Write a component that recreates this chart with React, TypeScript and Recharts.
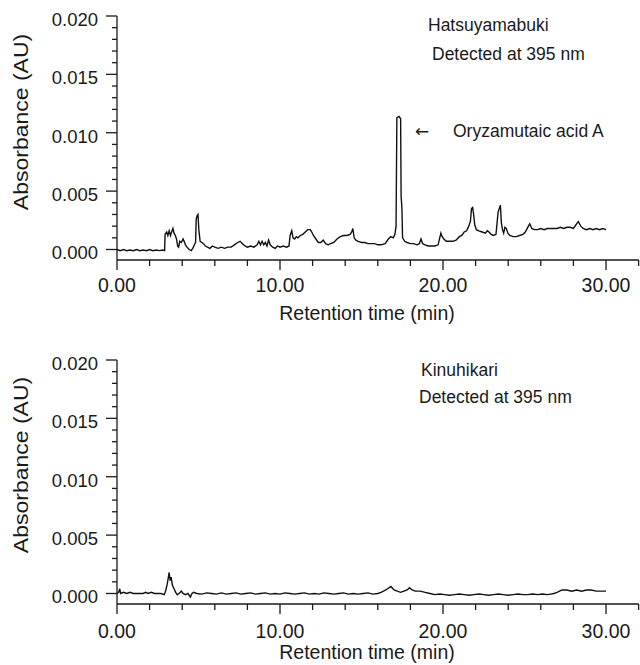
import { LineChart, Line, XAxis, YAxis } from 'recharts';

// Hatsuyamabuki chromatogram (min, AU)
const topTime = [
  0.0, 0.2, 0.4, 0.6, 0.8, 1.0, 1.2, 1.4, 1.6, 1.8, 2.0, 2.2, 2.4, 2.6, 2.8, 2.92,
  2.95, 3.05, 3.12, 3.2, 3.28, 3.35, 3.43, 3.5, 3.58, 3.65, 3.72, 3.78, 3.85, 3.95,
  4.05, 4.12, 4.2, 4.3, 4.42, 4.55, 4.65, 4.75, 4.82, 4.86, 4.92, 4.97, 5.02, 5.1,
  5.2, 5.3, 5.42, 5.55, 5.7, 5.85, 6.0, 6.2, 6.4, 6.6, 6.8, 7.0, 7.2, 7.4, 7.55,
  7.7, 7.85, 8.0, 8.2, 8.4, 8.6, 8.7, 8.8, 8.9, 9.0, 9.1, 9.2, 9.3, 9.4, 9.55, 9.7,
  9.85, 10.0, 10.2, 10.4, 10.55, 10.62, 10.72, 10.8, 10.9, 11.0, 11.1, 11.25, 11.4,
  11.55, 11.7, 11.85, 11.95, 12.05, 12.2, 12.35, 12.5, 12.65, 12.8, 12.95, 13.1,
  13.3, 13.5, 13.7, 13.9, 14.1, 14.3, 14.4, 14.47, 14.55, 14.65, 14.8, 15.0, 15.2,
  15.4, 15.6, 15.8, 16.0, 16.2, 16.45, 16.65, 16.8, 16.95, 17.05, 17.12, 17.17,
  17.3, 17.4, 17.43, 17.48, 17.52, 17.65, 17.8, 18.0, 18.2, 18.4, 18.55, 18.65,
  18.75, 18.9, 19.1, 19.3, 19.5, 19.7, 19.8, 19.87, 19.95, 20.05, 20.2, 20.4, 20.6,
  20.8, 21.0, 21.15, 21.3, 21.45, 21.58, 21.68, 21.75, 21.82, 21.88, 21.95, 22.05,
  22.2, 22.4, 22.6, 22.72, 22.82, 22.95, 23.1, 23.25, 23.38, 23.45, 23.52, 23.58,
  23.65, 23.72, 23.8, 23.88, 23.98, 24.1, 24.3, 24.5, 24.7, 24.9, 25.05, 25.2,
  25.32, 25.45, 25.6, 25.8, 26.0, 26.2, 26.4, 26.6, 26.8, 27.0, 27.2, 27.4, 27.6,
  27.8, 28.0, 28.15, 28.3, 28.45, 28.6, 28.8, 29.0, 29.2, 29.4, 29.6, 29.8, 30.0,
];
const topAbs = [
  0.0, -0.0001, 0.0, -0.0001, -0.00005, -0.0001, 0.0, -0.0001, -0.00005, -0.0001, 0.0, -0.0001, -0.00005, -0.0001, -0.00005, -0.0001,
  0.0013, 0.0015, 0.0012, 0.0016, 0.0012, 0.0015, 0.0018, 0.0014, 0.0012, 0.0009, 0.0003, 0.0002, 0.0007, 0.0006,
  0.0009, 0.0007, 0.0004, 0.0002, 0.0, -0.0001, 0.0001, 0.0004, 0.0006, 0.0026, 0.0029, 0.003, 0.0017, 0.0007,
  0.0006, 0.0005, 0.0003, 0.0002, 0.0001, 0.0003, 0.0002, 0.0001, 0.0002, 0.0001, 0.0002, 0.0002, 0.0004, 0.0006, 0.0007,
  0.0005, 0.0003, 0.0002, 0.0003, 0.0002, 0.0004, 0.0007, 0.0004, 0.0007, 0.0004, 0.0006, 0.0003, 0.0008, 0.0004, 0.0002, 0.0001,
  0.0003, 0.0002, 0.0003, 0.0002, 0.0003, 0.0012, 0.0016, 0.001, 0.0009, 0.0011, 0.001, 0.0012, 0.0013,
  0.0015, 0.0017, 0.0017, 0.0015, 0.0012, 0.0009, 0.0006, 0.0006, 0.0008, 0.0005, 0.0004, 0.0005,
  0.0006, 0.0009, 0.0011, 0.0012, 0.0012, 0.0013, 0.0015, 0.0018, 0.001, 0.0008, 0.0007, 0.0006, 0.0006,
  0.0005, 0.0005, 0.0005, 0.0004, 0.0004, 0.0005, 0.0009, 0.0011, 0.001, 0.0013, 0.002, 0.0113,
  0.0114, 0.0112, 0.0046, 0.0035, 0.001, 0.0007, 0.0006, 0.0005, 0.0005, 0.0004, 0.0005, 0.0009,
  0.0005, 0.0004, 0.0003, 0.0003, 0.0003, 0.0004, 0.001, 0.0014, 0.0011, 0.0009, 0.0007, 0.0007, 0.0007,
  0.0008, 0.0011, 0.0012, 0.0015, 0.0016, 0.002, 0.0024, 0.0035, 0.0036, 0.003, 0.0021, 0.0017,
  0.0016, 0.0015, 0.0014, 0.0016, 0.0015, 0.0013, 0.0012, 0.0013, 0.0032, 0.0035, 0.0038, 0.0023,
  0.0017, 0.0014, 0.0019, 0.0018, 0.0014, 0.0012, 0.0011, 0.0011, 0.0012, 0.0013, 0.0015, 0.0019,
  0.0022, 0.0018, 0.0017, 0.0017, 0.0018, 0.0017, 0.0018, 0.0018, 0.0018, 0.0018, 0.0019, 0.0018, 0.0019,
  0.0019, 0.0018, 0.0021, 0.0024, 0.002, 0.0018, 0.0017, 0.0018, 0.0017, 0.0018, 0.0017, 0.0018, 0.0017,
];

// Kinuhikari chromatogram (min, AU)
const bottomTime = [
  0.0, 0.1, 0.17, 0.22, 0.4, 0.6, 0.8, 1.0, 1.3, 1.6, 1.76, 1.9, 2.1, 2.3, 2.5, 2.7,
  2.9, 3.0, 3.08, 3.14, 3.2, 3.26, 3.32, 3.4, 3.5, 3.6, 3.7, 3.8, 3.95, 4.05, 4.2,
  4.35, 4.5, 4.6, 4.7, 4.9, 5.2, 5.5, 5.8, 6.1, 6.4, 6.7, 7.0, 7.3, 7.6, 7.9, 8.2,
  8.5, 8.8, 9.1, 9.4, 9.7, 10.0, 10.3, 10.6, 10.9, 11.2, 11.5, 11.8, 12.1, 12.4,
  12.7, 13.0, 13.3, 13.6, 13.9, 14.2, 14.5, 14.8, 15.1, 15.4, 15.7, 16.0, 16.2,
  16.5, 16.8, 17.0, 17.2, 17.4, 17.6, 17.8, 17.95, 18.1, 18.3, 18.6, 18.9, 19.2,
  19.5, 19.8, 20.1, 20.4, 20.7, 21.0, 21.3, 21.6, 21.9, 22.2, 22.5, 22.8, 23.1,
  23.4, 23.7, 24.0, 24.3, 24.6, 24.9, 25.2, 25.5, 25.8, 26.1, 26.4, 26.6, 26.8,
  27.0, 27.3, 27.6, 27.9, 28.2, 28.5, 28.8, 29.1, 29.4, 29.7, 30.0,
];
const bottomAbs = [
  0.0, 0.0001, 0.0004, 0.0, 0.0001, 0.0, 0.0001, 0.0, 0.0, 0.0, 0.0001, 0.0, 0.0001, 0.0, 0.0, 0.0,
  -0.0001, 0.0003, 0.0008, 0.0013, 0.0018, 0.0011, 0.0014, 0.0007, 0.0004, 0.0001, -0.0001, 0.0, 0.0002, 0.0, -0.0001,
  0.0, -0.0003, 0.0, 0.0001, 0.0, -0.00005, 0.00005, 0.0, -0.00005, 0.00005, -0.00005, 0.0, 0.00005, -0.00005, 0.0, 0.00005,
  -0.00005, 0.0, 0.00005, -0.00005, 0.0, -0.00005, 0.00005, 0.0, -0.00005, 0.0, 0.00005, -0.00005, 0.0, -0.00005,
  0.00005, 0.0, -0.00005, 0.0, 0.00005, -0.00005, 0.0, -0.00005, 0.0, 0.00005, -0.00005, 0.0, 0.0001,
  0.0003, 0.0006, 0.0003, 0.0002, 0.0001, 0.0002, 0.0003, 0.0005, 0.0003, 0.0002, 0.0002, 0.0001, 0.0,
  -0.0001, -0.00005, -0.0001, -0.00015, -0.0001, -0.00005, -0.0001, -0.00015, -0.0001, -0.00005, -0.0001, -0.00015, -0.0001,
  -0.00005, -0.0001, -0.00015, -0.0001, -0.00005, -0.0001, -0.0001, -0.00005, -0.0001, -0.00005, -0.0001, -0.00005, 0.0,
  0.0001, 0.0003, 0.0003, 0.0002, 0.0003, 0.0002, 0.0003, 0.0003, 0.0002, 0.0002, 0.0002,
];

const xTicks = [0, 2, 4, 6, 8, 10, 12, 14, 16, 18, 20, 22, 24, 26, 28, 30, 32];
const yTicks = [
  0, 0.001, 0.002, 0.003, 0.004, 0.005, 0.006, 0.007, 0.008, 0.009, 0.01,
  0.011, 0.012, 0.013, 0.014, 0.015, 0.016, 0.017, 0.018, 0.019, 0.02,
];

const FONT = '"Liberation Sans", Arial, Helvetica, sans-serif';
const INK = '#1a1a1a';

const topData = topTime.map((t, i) => ({ t, v: topAbs[i] }));
const bottomData = bottomTime.map((t, i) => ({ t, v: bottomAbs[i] }));

const makeXTick = (labelDy: number) => (props: any) => {
  const { x, y, payload } = props;
  const v = payload.value;
  const major = v % 10 === 0;
  return (
    <g>
      <line x1={x} y1={y} x2={x} y2={y + (major ? 10 : 6)} stroke={INK} strokeWidth={1.3} />
      {major && v <= 30 && (
        <text x={x} y={y + labelDy} textAnchor="middle" fontSize={19.5} fontFamily={FONT} fill={INK}>
          {v.toFixed(2)}
        </text>
      )}
    </g>
  );
};

const YTick = (props: any) => {
  const { x, y, payload } = props;
  const v = payload.value;
  const major = Math.round(v * 1000) % 5 === 0;
  return (
    <g>
      <line x1={x - (major ? 11 : 5)} y1={y} x2={x} y2={y} stroke={INK} strokeWidth={1.3} />
      {major && (
        <text x={x - 19} y={y + 10} textAnchor="end" fontSize={18.5} fontFamily={FONT} fill={INK}>
          {v.toFixed(3)}
        </text>
      )}
    </g>
  );
};

type PanelProps = {
  data: { t: number; v: number }[];
  height: number;
  top: number;
  xAxisHeight: number;
  tickLabelDy: number;
  xLabelY: number;
  yLabelY: number;
  notes: { text: string; x: number; y: number }[];
  children?: any;
};

function Panel({ data, height, top, xAxisHeight, tickLabelDy, xLabelY, yLabelY, notes, children }: PanelProps) {
  return (
    <LineChart width={640} height={height} data={data} margin={{ top, right: 1.4, left: 0, bottom: 0 }}>
      <XAxis
        type="number"
        dataKey="t"
        domain={[0, 32]}
        ticks={xTicks}
        interval={0}
        height={xAxisHeight}
        tickLine={false}
        tickSize={0}
        tickMargin={0}
        tick={makeXTick(tickLabelDy)}
        axisLine={{ stroke: INK, strokeWidth: 1.3 }}
      />
      <YAxis
        type="number"
        domain={[-0.0009, 0.02]}
        ticks={yTicks}
        interval={0}
        width={117}
        tickLine={false}
        tickSize={0}
        tickMargin={0}
        tick={<YTick />}
        axisLine={{ stroke: INK, strokeWidth: 1.3 }}
        allowDataOverflow
      />
      <Line
        type="linear"
        dataKey="v"
        stroke="#111"
        strokeWidth={1.4}
        dot={false}
        activeDot={false}
        isAnimationActive={false}
      />
      <text x={367} y={xLabelY} textAnchor="middle" fontSize={19.5} fontFamily={FONT} fill={INK}>
        Retention time (min)
      </text>
      <text
        transform={`translate(28,${yLabelY}) rotate(-90) scale(1.15,1)`}
        textAnchor="middle"
        fontSize={20}
        fontFamily={FONT}
        fill={INK}
      >
        Absorbance (AU)
      </text>
      {notes.map((n) => (
        <text key={n.text} x={n.x} y={n.y} fontSize={17.5} fontFamily={FONT} fill={INK}>
          {n.text}
        </text>
      ))}
      {children}
    </LineChart>
  );
}

export default function App() {
  return (
    <div style={{ position: 'absolute', left: 0, top: 0, width: 640, height: 665, background: '#fff' }}>
      <Panel
        data={topData}
        height={330}
        top={16}
        xAxisHeight={70}
        tickLabelDy={31.5}
        xLabelY={320}
        yLabelY={122}
        notes={[
          { text: 'Hatsuyamabuki', x: 428, y: 31 },
          { text: 'Detected at 395 nm', x: 432, y: 59.5 },
          { text: 'Oryzamutaic acid A', x: 453, y: 137 },
        ]}
      >
        <text x={415} y={137} fontSize={17} fontFamily={'"DejaVu Sans", sans-serif'} fill={INK}>
          ←
        </text>
      </Panel>
      <Panel
        data={bottomData}
        height={335}
        top={30}
        xAxisHeight={61}
        tickLabelDy={34}
        xLabelY={329}
        yLabelY={135}
        notes={[
          { text: 'Kinuhikari', x: 421, y: 46 },
          { text: 'Detected at 395 nm', x: 419, y: 73 },
        ]}
      />
    </div>
  );
}
